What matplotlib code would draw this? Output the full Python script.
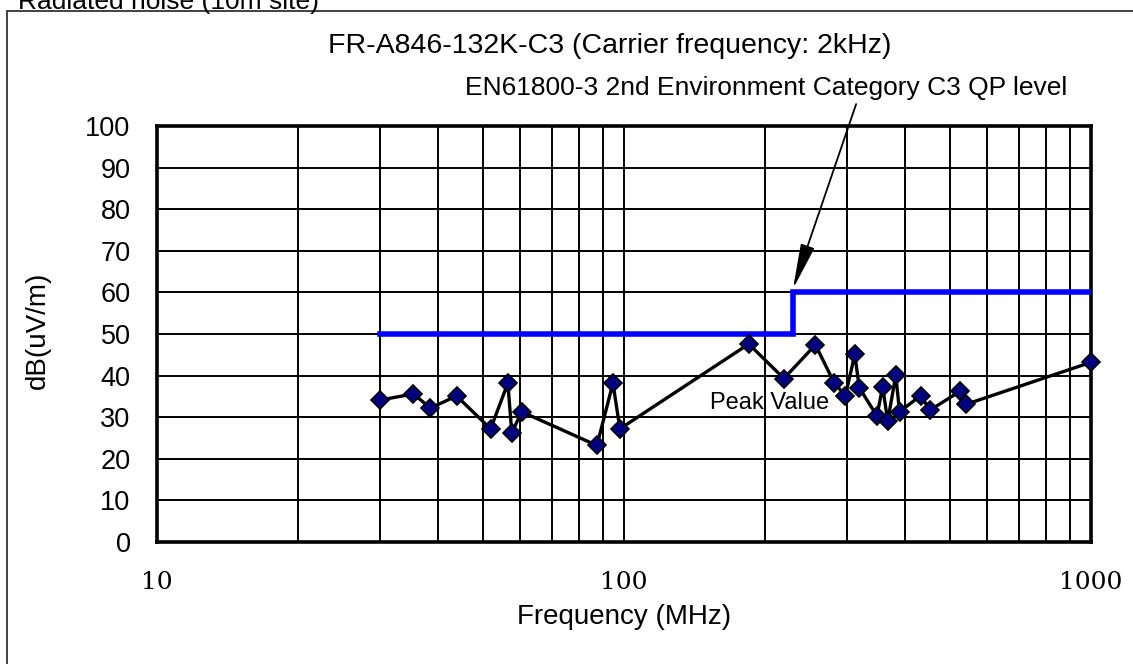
import matplotlib
matplotlib.use("Agg")
import matplotlib.pyplot as plt
from matplotlib.patches import Rectangle
from matplotlib.ticker import FixedLocator, NullFormatter

# Peak values (MHz, dB(uV/m))
freq_mhz = [30, 35.4, 38.5, 43.8, 51.8, 56.4, 57.5, 60.4, 87.5, 94.7, 98,
            185, 220, 257, 282, 298, 312, 319, 348, 358, 367, 382, 389,
            432, 452, 524, 540, 1000]
peak_db = [34.1, 35.6, 32.2, 35.1, 27.2, 38.2, 26.3, 31.3, 23.2, 38.2, 27.2,
           47.6, 39.3, 47.4, 38.2, 35.2, 45.1, 37.1, 30.3, 37.3, 29.1, 40.1, 31.3,
           35.2, 31.7, 36.2, 33.1, 43.2]

# EN61800-3 C3 QP limit
limit_freq = [30, 230, 230, 1000]
limit_db = [50, 50, 60, 60]

x_ticks = [10, 100, 1000]
x_minor = [20, 30, 40, 50, 60, 70, 80, 90, 200, 300, 400, 500, 600, 700, 800, 900]
y_ticks = list(range(0, 101, 10))

plt.rcParams['font.family'] = ['Liberation Sans', 'DejaVu Sans']

W, H = 1133, 664
fig = plt.figure(figsize=(W / 100, H / 100), dpi=100)
ax = fig.add_axes([157 / W, 1 - 542 / H, (1091 - 157) / W, (542 - 126) / H])

ax.set_xscale('log')
ax.set_xlim(10, 1000)
ax.set_ylim(0, 100)

ax.xaxis.set_major_locator(FixedLocator(x_ticks))
ax.xaxis.set_minor_locator(FixedLocator(x_minor))
ax.xaxis.set_minor_formatter(NullFormatter())
ax.set_xticklabels([str(t) for t in x_ticks], fontfamily='DejaVu Serif', fontsize=18)
ax.set_yticks(y_ticks)
ax.set_yticklabels([str(t) for t in y_ticks], fontsize=19.5)
ax.tick_params(which='both', length=0)
ax.tick_params(axis='y', pad=19)
ax.tick_params(axis='x', pad=21)

ax.grid(True, which='both', color='black', linewidth=1.4)
ax.set_axisbelow(True)
for sp in ax.spines.values():
    sp.set_linewidth(2.6)

ax.plot(limit_freq, limit_db, color='#0000ff', linewidth=4, solid_joinstyle='miter', zorder=3)
ax.plot(freq_mhz, peak_db, color='black', linewidth=2.4, marker='D', markersize=9,
        markerfacecolor='#000080', markeredgecolor='black', markeredgewidth=1.2, zorder=4,
        clip_on=False)

ax.set_xlabel('Frequency (MHz)', fontsize=20, va='center')
ax.xaxis.set_label_coords(0.5, (542 - 617) / 416)
ax.set_ylabel('dB(uV/m)', fontsize=20, va='center')
ax.yaxis.set_label_coords((38 - 157) / 934, 0.51)

ax.text(770 / W, 1 - 403 / H, 'Peak Value', transform=fig.transFigure, fontsize=17,
        ha='center', va='center', zorder=5)

# limit label, arrow leaves from under "Category"
ax.annotate('EN61800-3 2nd Environment Category C3 QP level', xy=(230, 60.8),
            xytext=(766 / W, 1 - 88 / H), textcoords='figure fraction',
            fontsize=19, ha='center', va='center', annotation_clip=False,
            arrowprops=dict(arrowstyle='-|>,head_length=1.4,head_width=0.22', color='black',
                            lw=1.3, mutation_scale=20, relpos=(0.652, 0.0),
                            shrinkA=1, shrinkB=0))

fig.text(610 / W, 1 - 46 / H, 'FR-A846-132K-C3 (Carrier frequency: 2kHz)',
         fontsize=20.5, ha='center', va='center')
fig.text(18 / W, 1 - 9.5 / H, 'Radiated noise (10m site)', fontsize=19, ha='left', va='baseline')

fig.patches.append(Rectangle((7 / W, -0.1), 1.2, 1 - 10.5 / H + 0.1, transform=fig.transFigure,
                             fill=False, edgecolor='#333333', linewidth=1.3))

fig.savefig('out.png', dpi=100)
